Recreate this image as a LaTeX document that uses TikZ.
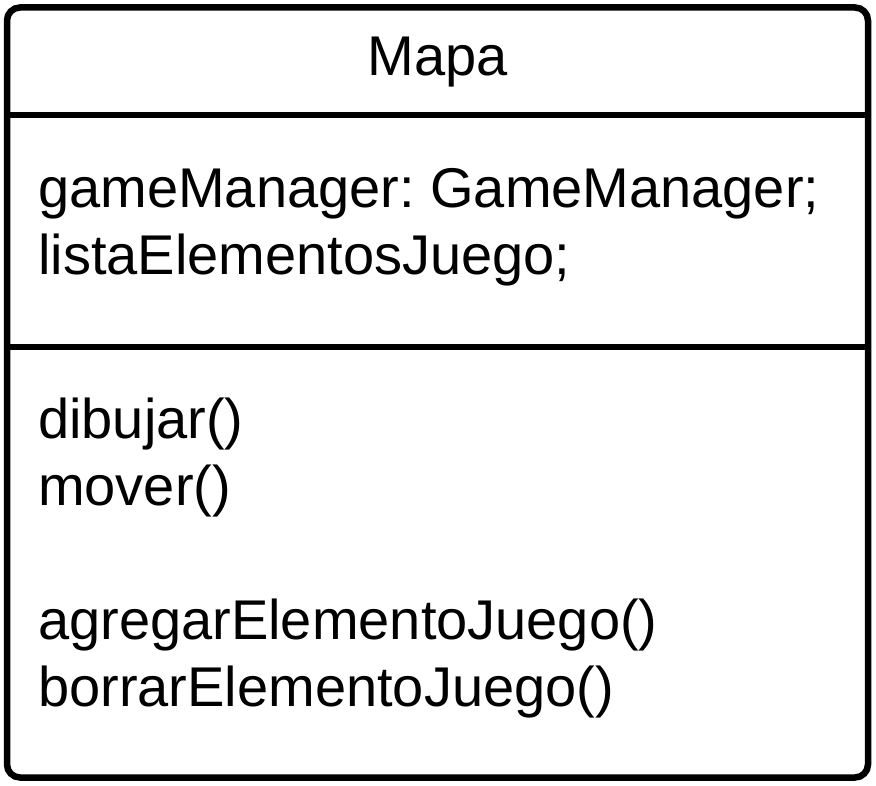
\documentclass[tikz,border=0pt]{standalone}
\usepackage{fontspec}
\setmainfont{Liberation Sans}
\frenchspacing
\begin{document}
\begin{tikzpicture}[x=1pt,y=-1pt,
txt/.style = {% compartment lines
    anchor=base west, inner sep=0pt, font=\fontsize{56}{67}\selectfont,
            },
frame/.style = {line width=6.5pt, draw=black},
                        ]
  \useasboundingbox (0,0) rectangle (876,786);

  % class box
  \draw[frame, rounded corners=13pt] (7,7.5) rectangle (868,777.5);
  \coordinate (d1w) at (7,115);   \coordinate (d1e) at (868,115);
  \coordinate (d2w) at (7,347);   \coordinate (d2e) at (868,347);
  \draw[frame] (d1w) -- (d1e);
  \draw[frame] (d2w) -- (d2e);

  % name
  \node[txt, anchor=base] (name) at (437.5,76) {Mapa};

  % attributes
  \node[txt] (attrA) at (38,207.5) {gameManager: GameManager;};
  \node[txt] (attrB) at (38,275) {listaElementosJuego;};

  % methods
  \node[txt] (opA) at (38,438) {dibujar()};
  \node[txt] (opB) at (38,505) {mover()};
  \node[txt] (opC) at (38,639) {agregarElementoJuego()};
  \node[txt] (opD) at (38,706) {borrarElementoJuego()};

\end{tikzpicture}
\end{document}
